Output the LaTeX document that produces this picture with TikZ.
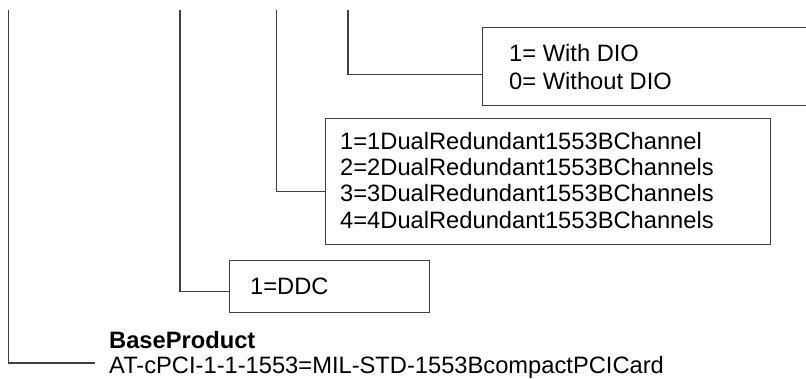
\documentclass[tikz,border=0pt]{standalone}
\usepackage{fontspec}
\setmainfont{Liberation Sans}
\usetikzlibrary{calc}
\tikzset{
  optbox/.style={draw=black!75, line width=1.1pt, rectangle, inner sep=0pt, anchor=north west},
  conn/.style={draw=black!75, line width=1.1pt},
  txt/.style={anchor=base west, inner sep=0pt, font=\fontsize{23.7}{28}\selectfont},
}
\begin{document}
\begin{tikzpicture}[x=1pt,y=-1pt]
\useasboundingbox (0,0) rectangle (806,378);
\clip (0,0) rectangle (806,378);
% boxes
\node[optbox, minimum width=340pt, minimum height=78pt] (boxDIO) at (482,27.3) {};
\node[optbox, minimum width=445pt, minimum height=125.2pt] (boxCh) at (325,118.3) {};
\node[optbox, minimum width=200pt, minimum height=52.3pt] (boxDDC) at (229,260) {};
% texts
\node[txt] (dio1) at (509,61.7) {1= With DIO};
\node[txt] (dio0) at (509,89.3) {0= Without DIO};
\node[txt] (ch1) at (340,149.3) {1=1DualRedundant1553BChannel};
\node[txt] (ch2) at (340,175.6) {2=2DualRedundant1553BChannels};
\node[txt] (ch3) at (340,201.9) {3=3DualRedundant1553BChannels};
\node[txt] (ch4) at (340,228.2) {4=4DualRedundant1553BChannels};
\node[txt] (ddc) at (250,294.3) {1=DDC};
\node[txt] (base) at (109,348.5) {\bfseries BaseProduct};
\node[txt] (prod) at (109,373.3) {AT-cPCI-1-1-1553=MIL-STD-1553BcompactPCICard};
% connector tops
\coordinate (tA) at (8.3,9.5);
\coordinate (tB) at (180,9.5);
\coordinate (tC) at (276.3,9.5);
\coordinate (tD) at (348,9.5);
\coordinate (eA) at (95,363);
% connectors
\draw[conn] (tA) |- (eA);
\draw[conn] (tB) |- ($(boxDDC.west)+(0,4.6)$);
\draw[conn] (tC) |- ($(boxCh.west)+(0,9.8)$);
\draw[conn] (tD) |- ($(boxDIO.west)+(0,7.7)$);
\end{tikzpicture}
\end{document}
